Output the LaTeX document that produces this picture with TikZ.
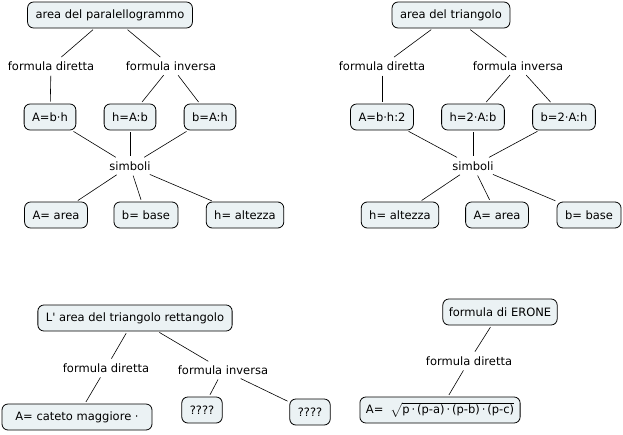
\documentclass[tikz,border=0pt]{standalone}
\usepackage{amsmath}
\usepackage{fontspec}
\setmainfont{DejaVu Sans}[Ligatures=TeXOff]
\definecolor{boxfill}{HTML}{EBF2F4}
\tikzset{
  concept/.style={draw=black, fill=boxfill, rounded corners=6pt, minimum height=26pt, inner xsep=8pt, line width=0.8pt, font=\fontsize{11.5}{13}\selectfont},
  lab/.style={inner sep=3pt, font=\fontsize{11.5}{13}\selectfont},
  link/.style={draw=black, line width=0.6pt, shorten <=2pt, shorten >=2pt}
}
\begin{document}
\begin{tikzpicture}[x=1pt,y=-1pt]
\useasboundingbox (0,0) rectangle (623,434);
% top-left
\node[concept] (p0) at (110,15) {area del paralellogrammo};
\node[lab] (pfd) at (51,66) {formula diretta};
\node[lab] (pfi) at (171,66) {formula inversa};
\node[concept] (p1) at (50,117) {A=b·h};
\node[concept] (p2) at (130,117) {h=A:b};
\node[concept] (p3) at (210,117) {b=A:h};
\node[lab] (ps) at (130,166) {simboli};
\node[concept] (p4) at (56,215) {A= area};
\node[concept] (p5) at (146,215) {b= base};
\node[concept] (p6) at (245,215) {h= altezza};
\draw[link] (p0) -- (pfd);
\draw[link] (p0) -- (pfi);
\draw[link] (pfd) -- (p1);
\draw[link] (pfi) -- (p2);
\draw[link] (pfi) -- (p3);
\draw[link] (p1) -- (ps);
\draw[link] (p2) -- (ps);
\draw[link] (p3) -- (ps);
\draw[link] (ps) -- (p4);
\draw[link] (ps) -- (p5);
\draw[link] (ps) -- (p6);
% top-right
\node[concept] (t0) at (451,15) {area del triangolo};
\node[lab] (tfd) at (382,66) {formula diretta};
\node[lab] (tfi) at (518,66) {formula inversa};
\node[concept] (t1) at (382,117) {A=b·h:2};
\node[concept] (t2) at (473,117) {h=2·A:b};
\node[concept] (t3) at (564,117) {b=2·A:h};
\node[lab] (ts) at (473,166) {simboli};
\node[concept] (t4) at (400,215) {h= altezza};
\node[concept] (t5) at (497,215) {A= area};
\node[concept] (t6) at (589,215) {b= base};
\draw[link] (t0) -- (tfd);
\draw[link] (t0) -- (tfi);
\draw[link] (tfd) -- (t1);
\draw[link] (tfi) -- (t2);
\draw[link] (tfi) -- (t3);
\draw[link] (t1) -- (ts);
\draw[link] (t2) -- (ts);
\draw[link] (t3) -- (ts);
\draw[link] (ts) -- (t4);
\draw[link] (ts) -- (t5);
\draw[link] (ts) -- (t6);
% bottom-left
\node[concept] (r0) at (135,318) {L' area del triangolo rettangolo};
\node[lab] (rfd) at (106,368) {formula diretta};
\node[lab] (rfi) at (223,370) {formula inversa};
\node[concept, minimum width=150pt] (r1) at (77,417) {A= cateto maggiore ·\hspace{22pt}};
\node[concept] (r2) at (202,410) {????};
\node[concept] (r3) at (310,412) {????};
\draw[link] (r0) -- (rfd);
\draw[link] (r0) -- (rfi);
\draw[link] (rfd) -- (r1);
\draw[link] (rfi) -- (r2);
\draw[link] (rfi) -- (r3);
% bottom-right
\node[concept, inner xsep=6pt] (e0) at (500,312) {formula di ERONE};
\node[lab] (efd) at (469,361) {formula diretta};
\node[concept, inner xsep=6pt] (e1) at (440,410) {A=\hspace{7pt}$\sqrt{\mbox{p\,·\,(p-a)\,·\,(p-b)\,·\,(p-c)}}$};
\draw[link] (e0) -- (efd);
\draw[link] (efd) -- (e1);
\end{tikzpicture}
\end{document}
